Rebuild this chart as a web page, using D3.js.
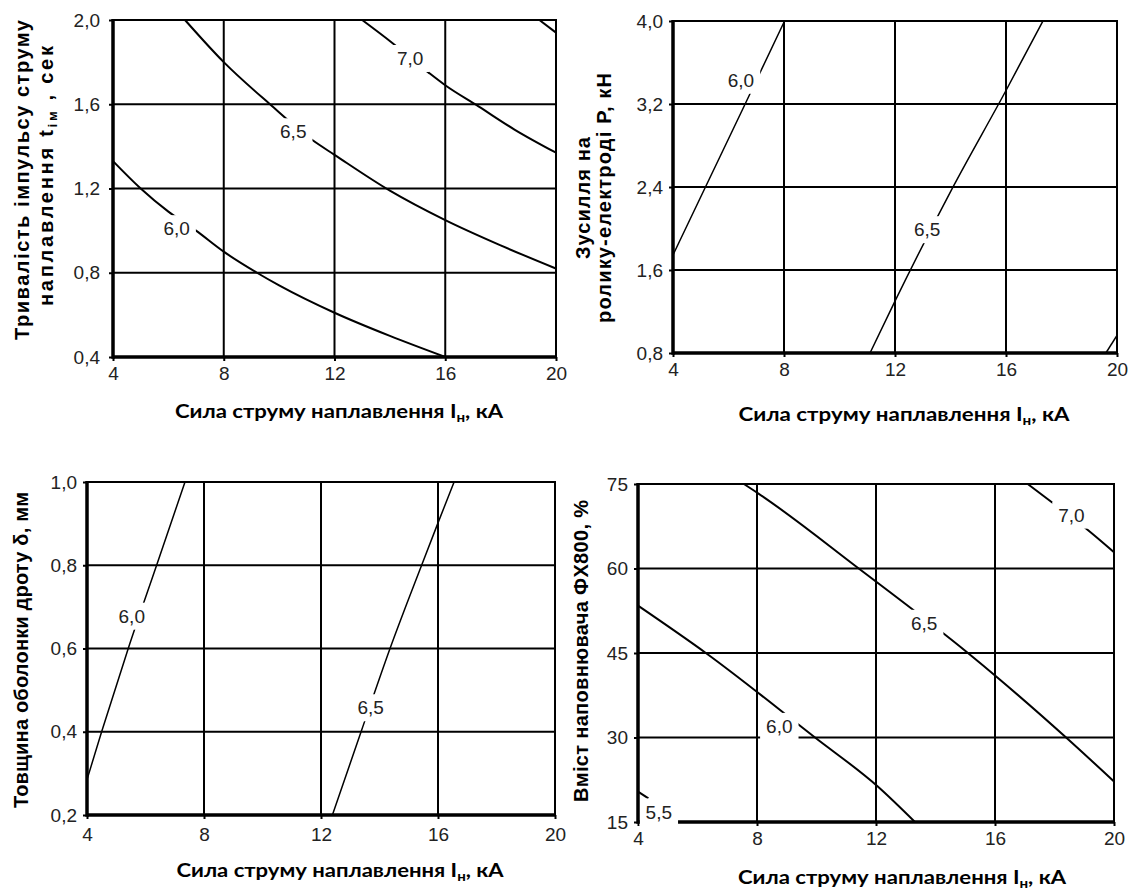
<!DOCTYPE html>
<html lang="uk">
<head>
<meta charset="UTF-8">
<title>Наплавлення</title>
<style>
  body { margin: 0; background: #fff; }
  svg { display: block; }
  .tick text { font-family: "Liberation Sans", Arial, sans-serif; font-size: 19px; fill: #222; }
  .tick line { stroke: #000; stroke-width: 2; }
  .clabel { font-family: "Liberation Sans", Arial, sans-serif; font-size: 19px; fill: #222; }
</style>
</head>
<body>
<svg id="chart" width="1133" height="892"></svg>

<script src="https://cdn.jsdelivr.net/npm/d3@7/dist/d3.min.js"></script>
<script>

var xTicks = [4, 8, 12, 16, 20];

// тривалість імпульсу, сек
var tTicks = [0.4, 0.8, 1.2, 1.6, 2.0];
var t60 = [[4, 1.33], [5, 1.2], [6, 1.09], [7, 1.0], [8, 0.90], [9.2, 0.80], [10, 0.74], [12, 0.61], [14, 0.50], [16, 0.40]];
var t65 = [[6.6, 2.0], [8, 1.80], [9.67, 1.6], [11.2, 1.43], [12, 1.36], [14, 1.19], [16, 1.05], [18, 0.93], [20, 0.82]];
var t70 = [[13.0, 2.0], [14.1, 1.89], [15.4, 1.75], [16, 1.69], [17.2, 1.59], [18.5, 1.48], [20, 1.37]];
var t75 = [[19.4, 2.0], [20, 1.94]];
var tLabelText = ["6,0", "6,5", "7,0"];
var tLabelAt = [[6.3, 1.01], [10.51, 1.47], [14.73, 1.818]];

// зусилля, кН
var pTicks = [0.8, 1.6, 2.4, 3.2, 4.0];
var p60 = [[4, 1.745], [5.17, 2.4], [6.6, 3.2], [8.02, 4.0]];
var p65 = [[11.1, 0.8], [12, 1.3], [14.05, 2.38], [16, 3.33], [17.33, 4.0]];
var p70 = [[19.6, 0.8], [20, 0.97]];
var pLabelText = ["6,0", "6,5"];
var pLabelAt = [[6.45, 3.43], [13.16, 1.99]];

// товщина оболонки, мм
var dTicks = [0.2, 0.4, 0.6, 0.8, 1.0];
var d60 = [[4, 0.285], [4.5, 0.4], [5.41, 0.6], [6.38, 0.8], [7.35, 1.0]];
var d65 = [[12.39, 0.2], [13.37, 0.4], [14.36, 0.6], [15.44, 0.8], [15.99, 0.9], [16.55, 1.0]];
var dLabelText = ["6,0", "6,5"];
var dLabelAt = [[5.53, 0.678], [13.70, 0.458]];

// вміст ФХ800, %
var vTicks = [15, 30, 45, 60, 75];
var v55 = [[4, 20.4], [4.35, 19.2]];
var v60 = [[4, 53.4], [6.28, 45.0], [9.95, 30.0], [12.06, 21.3], [13.31, 15.0]];
var v65 = [[7.56, 75], [8.05, 73.3], [11.42, 60.0], [15.09, 45.0], [16.07, 40.7], [18.39, 30.0], [20, 22.2]];
var v70 = [[17.1, 75], [17.9, 71.8], [19.13, 66.8], [20, 62.9]];
var vLabelText = ["5,5", "6,0", "6,5", "7,0"];
var vLabelAt = [[4.7, 16.8], [8.75, 32.0], [13.62, 50.3], [18.57, 69.5]];

var comma = function (d) { return d.toFixed(1).replace(".", ","); };

var svg = d3.select("#chart");

function panel(o) {
  var x = d3.scaleLinear().domain([4, 20]).range([o.left, o.right]);
  var y = d3.scaleLinear().domain(d3.extent(o.yTicks)).range([o.bottom, o.top]);
  var g = svg.append("g");

  g.selectAll("line.vg").data(xTicks.slice(1, -1)).join("line")
    .attr("class", "vg")
    .attr("x1", d => x(d)).attr("x2", d => x(d))
    .attr("y1", o.top).attr("y2", o.bottom)
    .attr("stroke", "#000").attr("stroke-width", 2);

  g.selectAll("line.hg").data(o.yTicks.slice(1, -1)).join("line")
    .attr("class", "hg")
    .attr("x1", o.left).attr("x2", o.right)
    .attr("y1", d => y(d)).attr("y2", d => y(d))
    .attr("stroke", "#000").attr("stroke-width", 2);

  g.append("path")
    .attr("d", "M" + o.left + "," + o.top + "H" + o.right + "V" + o.bottom)
    .attr("fill", "none").attr("stroke", "#000").attr("stroke-width", 2);

  g.append("line")
    .attr("x1", o.left).attr("x2", o.right)
    .attr("y1", o.bottom).attr("y2", o.bottom)
    .attr("stroke", "#000").attr("stroke-width", 3.5);

  g.append("g")
    .attr("transform", "translate(0," + o.bottom + ")")
    .call(d3.axisBottom(x).tickValues(xTicks).tickSize(4).tickPadding(o.xPad))
    .call(a => a.select(".domain").remove());

  g.append("g")
    .attr("transform", "translate(" + o.left + ",0)")
    .call(d3.axisLeft(y).tickValues(o.yTicks).tickSize(4).tickPadding(o.yPad).tickFormat(o.fmt))
    .call(a => a.select(".domain").remove());

  var line = d3.line()
    .x(d => x(d[0])).y(d => y(d[1]))
    .curve(d3.curveMonotoneX);

  g.selectAll("path.curve").data(o.curves).join("path")
    .attr("class", "curve")
    .attr("d", line)
    .attr("fill", "none").attr("stroke", "#000").attr("stroke-width", o.lw);

  o.labelText.forEach(function (txt, i) {
    var lg = g.append("g");
    var t = lg.append("text")
      .attr("class", "clabel")
      .attr("x", x(o.labelAt[i][0]))
      .attr("y", y(o.labelAt[i][1]))
      .attr("dy", "0.35em")
      .attr("text-anchor", "middle")
      .text(txt);
    var b = t.node().getBBox();
    lg.insert("rect", "text")
      .attr("x", b.x - 6).attr("y", b.y - 3)
      .attr("width", b.width + 12).attr("height", b.height + 6)
      .attr("fill", "#fff");
  });

  // left axis on top
  g.append("line")
    .attr("x1", o.left).attr("x2", o.left)
    .attr("y1", o.top - 1).attr("y2", o.bottom + 1.75)
    .attr("stroke", "#000").attr("stroke-width", 3.5);

  // x title
  var xt = svg.append("text")
    .attr("x", o.xTitle[0]).attr("y", o.xTitle[1])
    .attr("text-anchor", "middle")
    .attr("font-family", "Lato, 'Open Sans', sans-serif")
    .attr("font-weight", 700).attr("font-size", 19)
    .attr("textLength", o.xTitle[2]).attr("lengthAdjust", "spacingAndGlyphs");
  xt.append("tspan").text("Сила струму наплавлення I");
  xt.append("tspan").attr("font-size", 13).attr("dy", 4).text("н");
  xt.append("tspan").attr("dy", -4).text(", кА");

  // y title lines
  o.yTitle.forEach(function (l) {
    var yt = svg.append("text")
      .attr("transform", "translate(" + l.bx + "," + l.cy + ") rotate(-90)")
      .attr("text-anchor", "middle")
      .attr("font-family", "'Liberation Sans', Arial, sans-serif")
      .attr("font-weight", 700).attr("font-size", 20)
      .attr("textLength", l.len).attr("lengthAdjust", "spacing");
    l.parts.forEach(function (p) {
      var ts = yt.append("tspan").text(p[0]);
      if (p[1] === "sub") ts.attr("font-size", 13).attr("dy", 4);
      if (p[1] === "up") ts.attr("dy", -4);
    });
  });
}

panel({
  left: 113, right: 556, top: 20, bottom: 357,
  yTicks: tTicks, fmt: comma, xPad: 6, yPad: 9, lw: 2,
  curves: [t60, t65, t70, t75], labelText: tLabelText, labelAt: tLabelAt,
  xTitle: [339, 418, 328],
  yTitle: [
    { bx: 29, cy: 180, len: 320, parts: [["Тривалість імпульсу струму"]] },
    { bx: 53, cy: 176, len: 260, parts: [["наплавлення t"], ["ім", "sub"], [" , сек", "up"]] }
  ]
});

panel({
  left: 673, right: 1117, top: 21, bottom: 353,
  yTicks: pTicks, fmt: comma, xPad: 6, yPad: 6, lw: 1.5,
  curves: [p60, p65, p70], labelText: pLabelText, labelAt: pLabelAt,
  xTitle: [904, 421, 331],
  yTitle: [
    { bx: 590, cy: 198, len: 122, parts: [["Зусилля на"]] },
    { bx: 611, cy: 198, len: 250, parts: [["ролику-електроді Р, кН"]] }
  ]
});

panel({
  left: 87, right: 555, top: 482, bottom: 815,
  yTicks: dTicks, fmt: comma, xPad: 9, yPad: 6, lw: 1.5,
  curves: [d60, d65], labelText: dLabelText, labelAt: dLabelAt,
  xTitle: [340, 877, 327],
  yTitle: [
    { bx: 28, cy: 650, len: 316, parts: [["Товщина оболонки дроту δ, мм"]] }
  ]
});

panel({
  left: 638, right: 1114, top: 484, bottom: 822,
  yTicks: vTicks, fmt: d3.format("d"), xPad: 6, yPad: 6, lw: 2,
  curves: [v55, v60, v65, v70], labelText: vLabelText, labelAt: vLabelAt,
  xTitle: [902, 884, 328],
  yTitle: [
    { bx: 588, cy: 651, len: 302, parts: [["Вміст наповнювача  ФХ800, %"]] }
  ]
});

</script>
</body>
</html>
